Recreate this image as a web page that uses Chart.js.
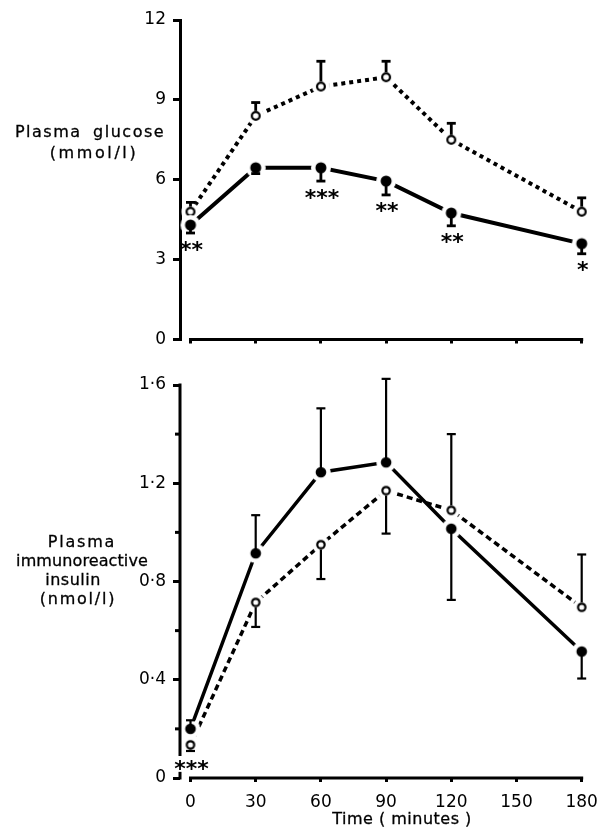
<!DOCTYPE html>
<html><head><meta charset="utf-8">
<script src="https://cdn.jsdelivr.net/npm/chart.js@4/dist/chart.umd.min.js"></script>
<style>
html,body{margin:0;padding:0;background:#fff;}
#wrap{position:relative;width:599px;height:827px;overflow:hidden;background:#fff;}
.cv{position:absolute;left:0;}
.lbl{position:absolute;font-family:"DejaVu Sans";font-size:16px;color:#000;white-space:nowrap;transform:translate(-50%,-50%);line-height:1;-webkit-text-stroke:0.3px #000;}
</style></head><body>
<div id="wrap">
<canvas id="c1" class="cv" width="599" height="360" style="top:0;width:599px;height:360px"></canvas>
<canvas id="c2" class="cv" width="599" height="467" style="top:360px;width:599px;height:467px"></canvas>
<div class="lbl" style="left:90px;top:132px;letter-spacing:1.5px;word-spacing:5px">Plasma glucose</div>
<div class="lbl" style="left:94px;top:153px;letter-spacing:2.6px">(mmol/l)</div>
<div class="lbl" style="left:82px;top:542px;letter-spacing:1.8px">Plasma</div>
<div class="lbl" style="left:82px;top:561px;letter-spacing:0.1px">immunoreactive</div>
<div class="lbl" style="left:73px;top:580px;letter-spacing:0.5px">insulin</div>
<div class="lbl" style="left:78px;top:599px;letter-spacing:1.8px">(nmol/l)</div>
<div class="lbl" style="left:402px;top:819px;letter-spacing:0.5px">Time ( minutes )</div>
</div>
<script>
// ---- data ----
const times = [0, 30, 60, 90, 120, 180];
const xTicks = [0, 30, 60, 90, 120, 150, 180];

const glucoseTicks = [0, 3, 6, 9, 12];
const glucoseTickLabels = ['0', '3', '6', '9', '12'];
const glucoseOpen = [4.8, 8.4, 9.5, 9.85, 7.5, 4.8];
const glucoseOpenErr = [0.35, 0.5, 0.95, 0.6, 0.62, 0.52];
const glucoseOpenDir = [1, 1, 1, 1, 1, 1];
const glucoseFilled = [4.3, 6.45, 6.45, 5.95, 4.75, 3.6];
const glucoseFilledErr = [0.3, 0.22, 0.5, 0.52, 0.48, 0.38];
const glucoseFilledDir = [-1, -1, -1, -1, -1, -1];
const glucoseSig = ['**', '', '***', '**', '**', '*'];

const insulinTicks = [0, 0.4, 0.8, 1.2, 1.6];
const insulinTickLabels = ['0', '0·4', '0·8', '1·2', '1·6'];
const insulinMinorTicks = [0.2, 0.6, 1.0, 1.4];
const insulinOpen = [0.135, 0.715, 0.95, 1.17, 1.09, 0.695];
const insulinOpenErr = [0.025, 0.1, 0.14, 0.175, 0.31, 0.215];
const insulinOpenDir = [-1, -1, -1, -1, 1, 1];
const insulinFilled = [0.2, 0.915, 1.245, 1.285, 1.015, 0.515];
const insulinFilledErr = [0.035, 0.155, 0.26, 0.34, 0.29, 0.11];
const insulinFilledDir = [1, 1, 1, 1, -1, -1];
const insulinSig = ['***', '', '', '', '', ''];

// ---- helpers ----
function marker(filled, r, ring, lw) {
  let s = Math.ceil((r + ring) * 2 + 2); if (s % 2) s++;
  const c = document.createElement('canvas'); c.width = c.height = s;
  const g = c.getContext('2d'); const m = s / 2;
  g.fillStyle = '#fff'; g.beginPath(); g.arc(m, m, r + ring, 0, 2 * Math.PI); g.fill();
  g.beginPath(); g.arc(m, m, filled ? r : r - lw / 2, 0, 2 * Math.PI);
  if (filled) { g.fillStyle = '#000'; g.fill(); }
  else { g.fillStyle = '#fff'; g.fill(); g.lineWidth = lw; g.strokeStyle = '#000'; g.stroke(); }
  return c;
}
const pts = vals => vals.map((v, i) => ({x: times[i], y: v}));
const FONT = 'DejaVu Sans';

const decor = {
  id: 'decor',
  afterDatasetsDraw(chart, args, o) {
    const ctx = chart.ctx, xs = chart.scales.x, ys = chart.scales.y, ca = chart.chartArea;
    ctx.save();
    ctx.strokeStyle = '#000'; ctx.fillStyle = '#000'; ctx.lineCap = 'butt';
    // x axis line from 0 to 180
    ctx.lineWidth = 3;
    ctx.beginPath();
    ctx.moveTo(xs.getPixelForValue(xTicks[0]) - 1.5, ca.bottom);
    ctx.lineTo(xs.getPixelForValue(xTicks[xTicks.length - 1]) + 1.5, ca.bottom);
    ctx.stroke();
    // broken y axis (bottom panel)
    if (o.brokenY) {
      ctx.beginPath();
      ctx.moveTo(ca.left, ys.getPixelForValue(ys.max) - 1.5);
      ctx.lineTo(ca.left, ys.getPixelForValue(o.brokenY[0]));
      ctx.stroke();
      ctx.beginPath();
      ctx.moveTo(ca.left, ys.getPixelForValue(o.brokenY[1]));
      ctx.lineTo(ca.left, ys.getPixelForValue(0) + 1.5);
      ctx.stroke();
    }
    if (o.minor) {
      o.minor.forEach(v => {
        const py = ys.getPixelForValue(v);
        ctx.beginPath(); ctx.moveTo(ca.left - 5, py); ctx.lineTo(ca.left, py); ctx.stroke();
      });
    }
    // error bars
    const lowest = times.map(() => -Infinity);
    chart.data.datasets.forEach(ds => {
      ctx.lineWidth = o.errWidth;
      ds.data.forEach((p, i) => {
        const px = xs.getPixelForValue(p.x);
        const py0 = ys.getPixelForValue(p.y);
        const py1 = ys.getPixelForValue(p.y + ds.dir[i] * ds.err[i]);
        const start = py0 + (py1 > py0 ? ds.barStart : -ds.barStart);
        if (Math.abs(py1 - py0) > ds.barStart) {
          ctx.beginPath(); ctx.moveTo(px, start); ctx.lineTo(px, py1); ctx.stroke();
        }
        ctx.beginPath(); ctx.moveTo(px - o.cap, py1); ctx.lineTo(px + o.cap, py1); ctx.stroke();
        lowest[i] = Math.max(lowest[i], py1, py0 + ds.barStart);
      });
    });
    // significance stars
    ctx.font = 'bold 22px "' + FONT + '"';
    ctx.textAlign = 'center'; ctx.textBaseline = 'alphabetic';
    o.sig.forEach((s, i) => {
      if (!s) return;
      const px = xs.getPixelForValue(times[i]);
      const m = ctx.measureText(s);
      const cy = lowest[i] + o.sigOffset;
      ctx.fillText(s, px + 1, cy + (m.actualBoundingBoxAscent - m.actualBoundingBoxDescent) / 2);
    });
    ctx.restore();
  }
};

function makeChart(id, cfg) {
  return new Chart(document.getElementById(id), {
    type: 'line',
    data: {datasets: [
      {data: pts(cfg.filled), err: cfg.filledErr, dir: cfg.filledDir, barStart: 0,
       borderColor: '#000', borderWidth: cfg.lw, pointStyle: marker(true, cfg.rf, 4.5, 0),
       pointRadius: 5, tension: 0, clip: false, fill: false},
      {data: pts(cfg.open), err: cfg.openErr, dir: cfg.openDir, barStart: cfg.ro,
       borderColor: '#000', borderWidth: cfg.lw, borderDash: cfg.dash, pointStyle: marker(false, cfg.ro, 4, 2.2),
       pointRadius: 5, tension: 0, clip: false, fill: false}
    ]},
    options: {
      responsive: false, animation: false, events: [],
      layout: {padding: {left: 0, right: 15, top: cfg.top, bottom: 0}},
      plugins: {legend: {display: false}, tooltip: {enabled: false},
        decor: {errWidth: cfg.errW, cap: 4.5, sig: cfg.sig, sigOffset: cfg.sigOff, brokenY: cfg.brokenY, minor: cfg.minor}},
      scales: {
        x: {type: 'linear', min: -4.83, max: 181.06,
          afterBuildTicks: s => { s.ticks = xTicks.map(v => ({value: v})); },
          afterFit: s => { s.height = cfg.xH; s.paddingLeft = 0; s.paddingRight = 0; },
          ticks: {display: cfg.xLabels, color: '#000', font: {family: FONT, size: 17}, padding: 10,
                  maxRotation: 0, autoSkip: false, callback: v => String(v)},
          grid: {drawOnChartArea: false, drawTicks: true, tickLength: 4, tickWidth: 3, tickColor: '#000', color: '#000', lineWidth: 3},
          border: {display: false}},
        y: {type: 'linear', min: 0, max: cfg.ymax,
          afterBuildTicks: s => { s.ticks = cfg.yTicks.map(v => ({value: v})); },
          afterFit: s => { s.width = 180; s.paddingTop = 0; s.paddingBottom = 0; },
          ticks: {color: '#000', font: {family: FONT, size: 17}, padding: 7,
                  callback: (v, i) => cfg.yLabels[i]},
          grid: {drawOnChartArea: false, drawTicks: true, tickLength: 7, tickWidth: 3, tickColor: '#000', color: '#000', lineWidth: 3},
          border: {display: !cfg.brokenY, width: 3, color: '#000'}}
      }
    },
    plugins: [decor]
  });
}

makeChart('c1', {
  filled: glucoseFilled, filledErr: glucoseFilledErr, filledDir: glucoseFilledDir,
  open: glucoseOpen, openErr: glucoseOpenErr, openDir: glucoseOpenDir,
  sig: glucoseSig, sigOff: 12.5, lw: 4, dash: [4, 4], rf: 5.5, ro: 5, errW: 2.8,
  top: 20, xH: 20.5, xLabels: false, ymax: 12, yTicks: glucoseTicks, yLabels: glucoseTickLabels
});
makeChart('c2', {
  filled: insulinFilled, filledErr: insulinFilledErr, filledDir: insulinFilledDir,
  open: insulinOpen, openErr: insulinOpenErr, openDir: insulinOpenDir,
  sig: insulinSig, sigOff: 14, lw: 3.5, dash: [6, 4], rf: 5.3, ro: 4.8, errW: 2.2,
  top: 25, xH: 49, xLabels: true, ymax: 1.6, yTicks: insulinTicks, yLabels: insulinTickLabels,
  brokenY: [0.09, 0.025], minor: insulinMinorTicks
});
</script>
</body></html>
